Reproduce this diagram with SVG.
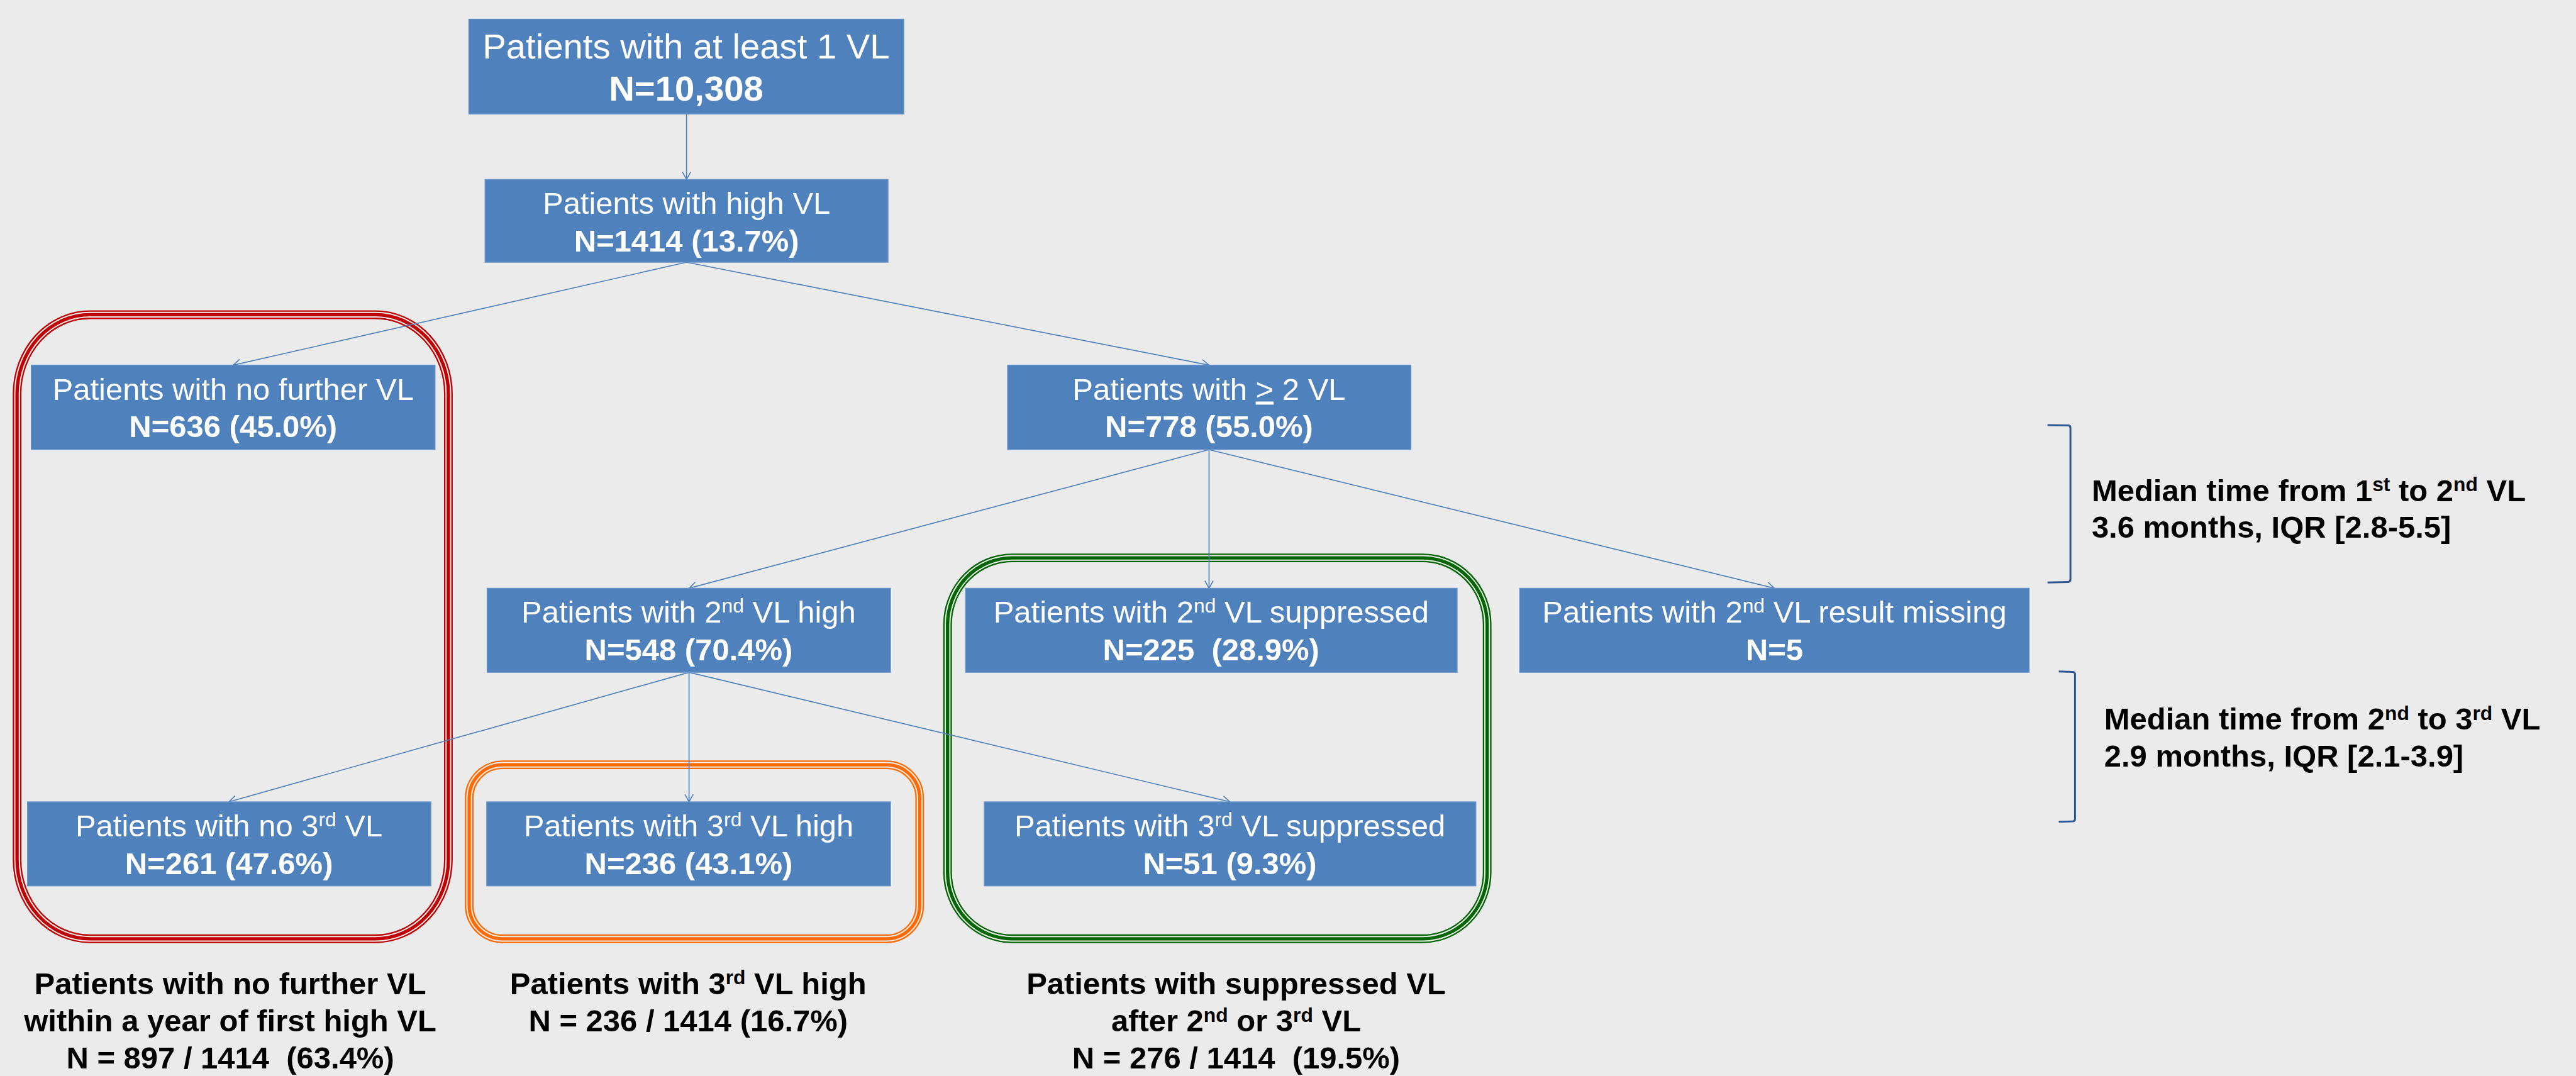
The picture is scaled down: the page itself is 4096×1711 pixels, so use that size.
<svg xmlns="http://www.w3.org/2000/svg" width="4096" height="1711" viewBox="0 0 4096 1711">
<defs>
<style>
.bg{fill:#EBEBEB}
.node rect{fill:#4F81BD;stroke:#6A95CB;stroke-width:2}
.nt{font-family:"Liberation Sans",Arial,sans-serif;font-size:74px;fill:#FFFFFF;text-anchor:middle}
.nb{font-weight:bold}
.lbl{font-family:"Liberation Sans",Arial,sans-serif;font-size:74px;font-weight:bold;fill:#000000}
.mid{text-anchor:middle}
.conn line{stroke:#4F81BD;stroke-width:2.5;fill:none;marker-end:url(#arr)}
.brk{stroke:#2B5593;stroke-width:4.5;fill:none}
.o1{fill:none;stroke-width:21}
.o2{fill:none;stroke:#EBEBEB;stroke-width:14}
.o3{fill:none;stroke-width:8}
</style>
<marker id="arr" markerUnits="userSpaceOnUse" markerWidth="24" markerHeight="26" refX="19" refY="11" orient="auto" overflow="visible">
<path d="M1,1 L19,11 L1,21" fill="none" stroke="#4F81BD" stroke-width="2.5"/>
</marker>
</defs>
<rect class="bg" x="0" y="0" width="4096" height="1711"/>
<g transform="scale(0.662)">

<g id="group-outlines">
<g id="outline-red" stroke="#C00000">
<rect class="o1" x="41" y="756" width="1036" height="1499" rx="175" ry="190"/>
<rect class="o2" x="41" y="756" width="1036" height="1499" rx="175" ry="190"/>
<rect class="o3" x="41" y="756" width="1036" height="1499" rx="175" ry="190"/>
</g>
<g id="outline-orange" stroke="#FF6A00">
<rect class="o1" x="1127" y="1837" width="1082" height="418" rx="80" ry="80"/>
<rect class="o2" x="1127" y="1837" width="1082" height="418" rx="80" ry="80"/>
<rect class="o3" x="1127" y="1837" width="1082" height="418" rx="80" ry="80"/>
</g>
<g id="outline-green" stroke="#006600">
<rect class="o1" x="2276" y="1340" width="1296" height="915" rx="155" ry="160"/>
<rect class="o2" x="2276" y="1340" width="1296" height="915" rx="155" ry="160"/>
<rect class="o3" x="2276" y="1340" width="1296" height="915" rx="155" ry="160"/>
</g>
</g>

<g id="connectors" class="conn">
<line x1="1649" y1="274" x2="1649" y2="431"/>
<line x1="1649" y1="630" x2="560" y2="877"/>
<line x1="1649" y1="630" x2="2904" y2="877"/>
<line x1="2904" y1="1080" x2="1655" y2="1413"/>
<line x1="2904" y1="1080" x2="2904" y2="1413"/>
<line x1="2904" y1="1080" x2="4262" y2="1413"/>
<line x1="1655" y1="1615" x2="550" y2="1926"/>
<line x1="1655" y1="1615" x2="1655" y2="1926"/>
<line x1="1655" y1="1615" x2="2954" y2="1926"/>
</g>

<g id="node-at-least-1-vl" class="node">
<rect x="1126" y="46" width="1045" height="228"/>
<text class="nt" x="1648" y="140" style="font-size:85px">Patients with at least 1 VL</text>
<text class="nt nb" x="1648" y="242" style="font-size:85px">N=10,308</text>
</g>

<g id="node-high-vl" class="node">
<rect x="1165" y="431" width="968" height="199"/>
<text class="nt" x="1649" y="514">Patients with high VL</text>
<text class="nt nb" x="1649" y="604">N=1414 (13.7%)</text>
</g>

<g id="node-no-further-vl" class="node">
<rect x="75" y="877" width="970" height="203"/>
<text class="nt" x="560" y="960">Patients with no further VL</text>
<text class="nt nb" x="560" y="1050">N=636 (45.0%)</text>
</g>

<g id="node-2-or-more-vl" class="node">
<rect x="2420" y="877" width="969" height="203"/>
<text class="nt" x="2904" y="960">Patients with <tspan text-decoration="underline">&gt;</tspan> 2 VL</text>
<text class="nt nb" x="2904" y="1050">N=778 (55.0%)</text>
</g>

<g id="node-2nd-vl-high" class="node">
<rect x="1170" y="1413" width="969" height="202"/>
<text class="nt" x="1654" y="1496">Patients with 2<tspan font-size="48" dy="-24">nd</tspan><tspan dy="24"> VL high</tspan></text>
<text class="nt nb" x="1654" y="1586">N=548 (70.4%)</text>
</g>

<g id="node-2nd-vl-suppressed" class="node">
<rect x="2319" y="1413" width="1181" height="202"/>
<text class="nt" x="2909" y="1496">Patients with 2<tspan font-size="48" dy="-24">nd</tspan><tspan dy="24"> VL suppressed</tspan></text>
<text class="nt nb" x="2909" y="1586" xml:space="preserve">N=225  (28.9%)</text>
</g>

<g id="node-2nd-vl-missing" class="node">
<rect x="3650" y="1413" width="1224" height="202"/>
<text class="nt" x="4262" y="1496">Patients with 2<tspan font-size="48" dy="-24">nd</tspan><tspan dy="24"> VL result missing</tspan></text>
<text class="nt nb" x="4262" y="1586">N=5</text>
</g>

<g id="node-no-3rd-vl" class="node">
<rect x="66" y="1926" width="969" height="202"/>
<text class="nt" x="550" y="2009">Patients with no 3<tspan font-size="48" dy="-24">rd</tspan><tspan dy="24"> VL</tspan></text>
<text class="nt nb" x="550" y="2099">N=261 (47.6%)</text>
</g>

<g id="node-3rd-vl-high" class="node">
<rect x="1169" y="1926" width="970" height="202"/>
<text class="nt" x="1654" y="2009">Patients with 3<tspan font-size="48" dy="-24">rd</tspan><tspan dy="24"> VL high</tspan></text>
<text class="nt nb" x="1654" y="2099">N=236 (43.1%)</text>
</g>

<g id="node-3rd-vl-suppressed" class="node">
<rect x="2364" y="1926" width="1181" height="202"/>
<text class="nt" x="2954" y="2009">Patients with 3<tspan font-size="48" dy="-24">rd</tspan><tspan dy="24"> VL suppressed</tspan></text>
<text class="nt nb" x="2954" y="2099">N=51 (9.3%)</text>
</g>

<g id="brackets">
<path class="brk" d="M4918,1021 L4967,1022 Q4973,1022 4973,1028 L4973,1392 Q4973,1398 4967,1398 L4918,1399"/>
<path class="brk" d="M4945,1613 L4978,1614 Q4984,1614 4984,1620 L4984,1967 Q4984,1973 4978,1973 L4945,1974"/>
</g>

<g id="timing-notes">
<text class="lbl" x="5024" y="1204">Median time from 1<tspan font-size="48" dy="-24">st</tspan><tspan dy="24"> to 2</tspan><tspan font-size="48" dy="-24">nd</tspan><tspan dy="24"> VL</tspan></text>
<text class="lbl" x="5024" y="1292">3.6 months, IQR [2.8-5.5]</text>
<text class="lbl" x="5054" y="1753">Median time from 2<tspan font-size="48" dy="-24">nd</tspan><tspan dy="24"> to 3</tspan><tspan font-size="48" dy="-24">rd</tspan><tspan dy="24"> VL</tspan></text>
<text class="lbl" x="5054" y="1842">2.9 months, IQR [2.1-3.9]</text>
</g>

<g id="summary-labels">
<text class="lbl mid" x="553" y="2388">Patients with no further VL</text>
<text class="lbl mid" x="553" y="2477">within a year of first high VL</text>
<text class="lbl mid" x="553" y="2566" xml:space="preserve">N = 897 / 1414  (63.4%)</text>
<text class="lbl mid" x="1653" y="2388">Patients with 3<tspan font-size="48" dy="-24">rd</tspan><tspan dy="24"> VL high</tspan></text>
<text class="lbl mid" x="1653" y="2478">N = 236 / 1414 (16.7%)</text>
<text class="lbl mid" x="2969" y="2388">Patients with suppressed VL</text>
<text class="lbl mid" x="2969" y="2478">after 2<tspan font-size="48" dy="-24">nd</tspan><tspan dy="24"> or 3</tspan><tspan font-size="48" dy="-24">rd</tspan><tspan dy="24"> VL</tspan></text>
<text class="lbl mid" x="2969" y="2567" xml:space="preserve">N = 276 / 1414  (19.5%)</text>
</g>

</g>
</svg>
